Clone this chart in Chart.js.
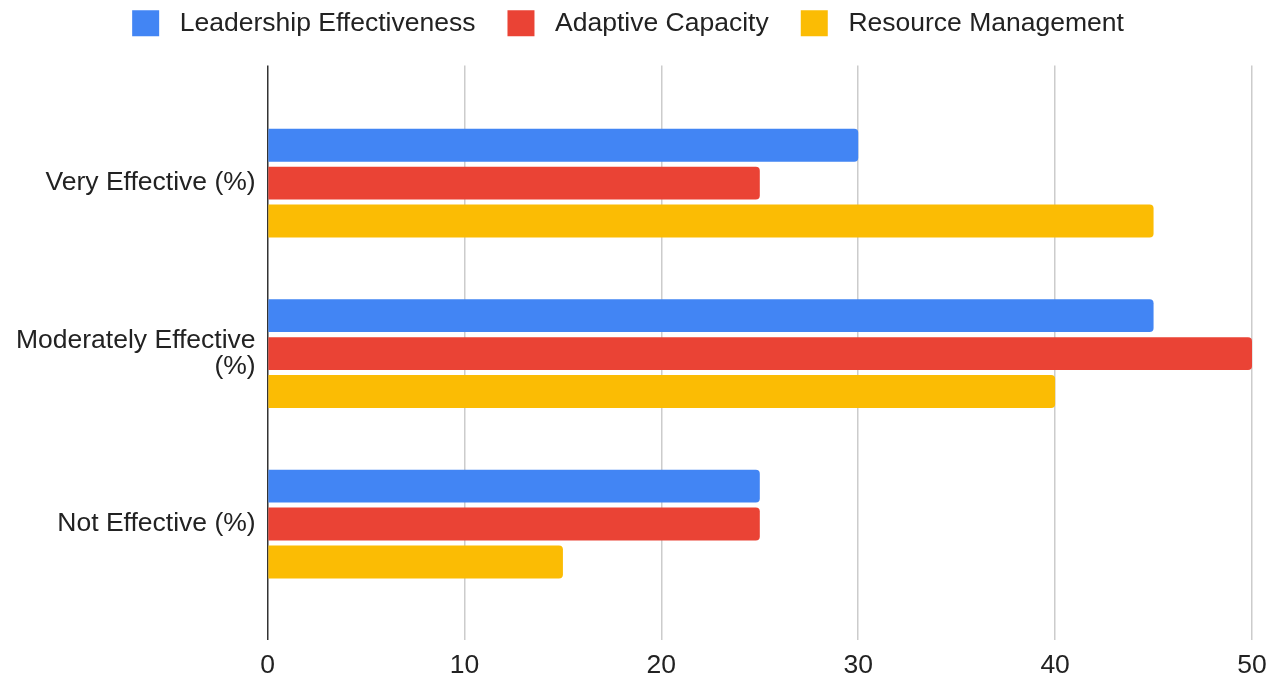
<!DOCTYPE html>
<html>
<head>
<meta charset="utf-8">
<script src="https://cdn.jsdelivr.net/npm/chart.js@4.4.1/dist/chart.umd.min.js"></script>
<style>
  html, body { margin: 0; padding: 0; background: #fff; }
  #wrap { width: 1281px; height: 677px; }
</style>
</head>
<body>
<div id="wrap"><canvas id="grafico"></canvas></div>
<script>
// categorias e series
const categorias = ['Very Effective (%)', ['Moderately Effective', '(%)'], 'Not Effective (%)'];
const lideranca = [30, 45, 25];
const adaptativa = [25, 50, 25];
const recursos = [45, 40, 15];
const nomesSeries = ['Leadership Effectiveness', 'Adaptive Capacity', 'Resource Management'];
const ticksX = [0, 10, 20, 30, 40, 50];

const fonte = "'Liberation Sans', Arial, Helvetica, sans-serif";
const ctx = document.getElementById('grafico');

new Chart(ctx, {
    type: 'bar',
    data: {
        labels: categorias,
        datasets: [{
            label: nomesSeries[0],
            data: lideranca,
            backgroundColor: '#4285F4',
            borderRadius: 4,
        },
        {
            label: nomesSeries[1],
            data: adaptativa,
            backgroundColor: '#EA4335',
            borderRadius: 4,
        },
        {
            label: nomesSeries[2],
            data: recursos,
            backgroundColor: '#FBBC04',
            borderRadius: 4,
        }],
    },
    options: {
        indexAxis: 'y',
        responsive: true,
        maintainAspectRatio: false,
        animation: false,
        categoryPercentage: 0.668,
        barPercentage: 0.868,
        layout: {
            padding: { left: 4, right: 29, top: 0, bottom: 0 }
        },
        plugins: {
            tooltip: { enabled: false },
            legend: {
                position: 'top',
                labels: {
                    boxWidth: 27,
                    boxHeight: 26,
                    padding: 10,
                    color: '#222',
                    font: { family: fonte, size: 26.5 },
                    generateLabels: (chart) => {
                        const itens = Chart.defaults.plugins.legend.labels.generateLabels(chart);
                        itens.forEach((item, i) => {
                            const fim = i == itens.length - 1 ? '' : '   ';
                            item.text = ' ' + item.text + fim;
                            item.lineWidth = 0;
                        });
                        return itens;
                    }
                }
            }
        },
        scales: {
            x: {
                position: 'bottom',
                min: 0,
                max: 50,
                afterBuildTicks: (scale) => {
                    scale.ticks = ticksX.map(v => ({ value: v }));
                },
                afterFit: (scale) => { scale.height = 37; },
                grid: {
                    drawTicks: false,
                    color: (c) => c.tick && c.tick.value === 0 ? '#333' : '#ccc',
                    lineWidth: 1.5,
                },
                border: { display: false },
                ticks: {
                    padding: 12,
                    color: '#222',
                    font: { family: fonte, size: 26.5, lineHeight: 1 }
                }
            },
            // espaco entre a legenda e o grafico
            topo: {
                type: 'linear',
                position: 'top',
                display: true,
                grid: { display: false, drawTicks: false },
                border: { display: false },
                ticks: { display: false },
                afterFit: (scale) => { scale.height = 19; }
            },
            y: {
                grid: { display: false, drawTicks: false },
                border: { display: false },
                afterBuildTicks: (scale) => {
                    // folga em cima e embaixo das categorias
                    scale._startValue = -0.69;
                    scale._valueRange = 3.37;
                },
                ticks: {
                    padding: 12,
                    color: '#222',
                    font: { family: fonte, size: 26.5, lineHeight: 1.0 }
                }
            }
        }
    }
});
</script>
</body>
</html>
